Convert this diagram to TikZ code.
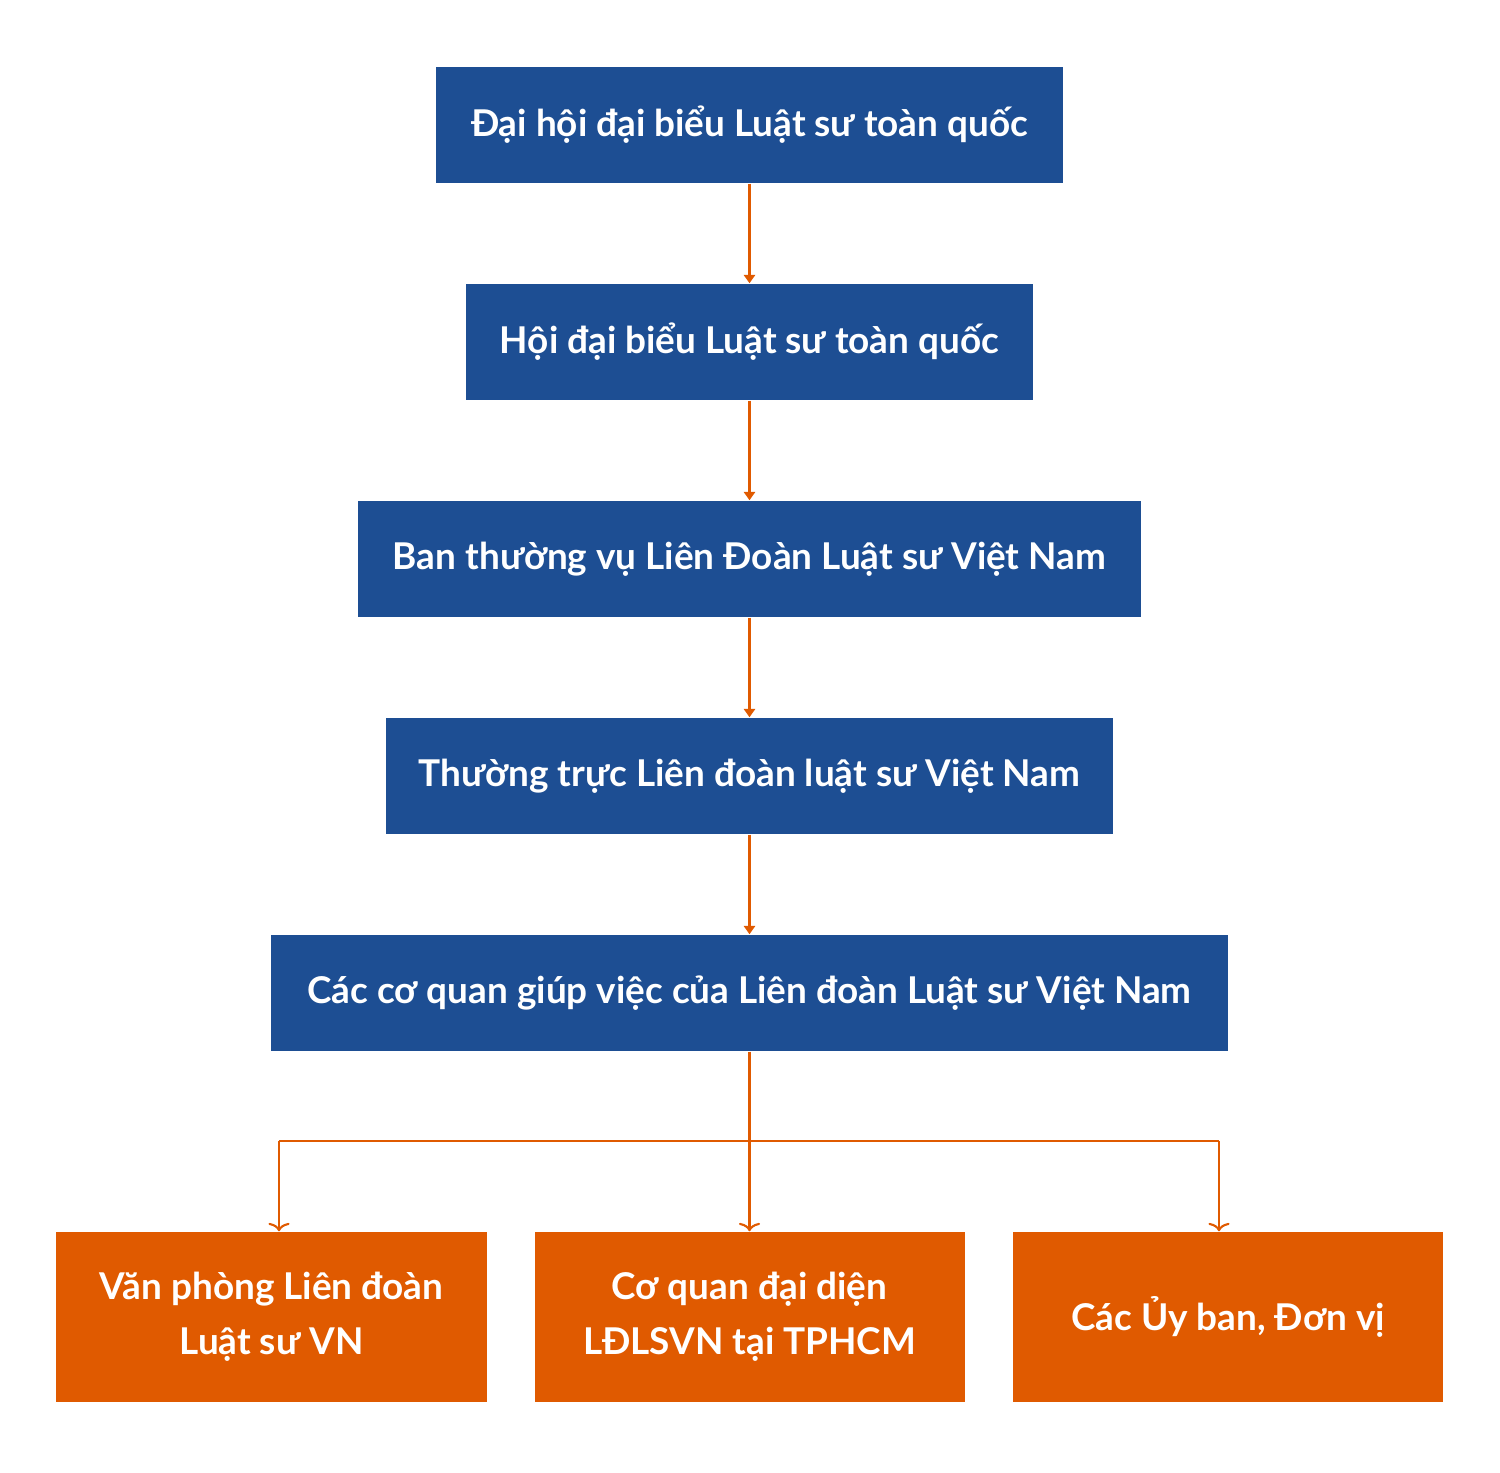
\documentclass[tikz,border=0pt]{standalone}
\usepackage{fontspec}
\setmainfont{Lato}
\usepackage{tikz}
\usetikzlibrary{arrows.meta, calc, positioning}

\definecolor{boxblue}{HTML}{1D4E93}
\definecolor{boxorange}{HTML}{E05A00}

\begin{document}
\begin{tikzpicture}[
    bluebox/.style={fill=boxblue, text=white, font=\fontsize{10.5}{14}\selectfont\bfseries, minimum height=1.16cm, inner sep=0pt, align=center},
    orangebox/.style={fill=boxorange, text=white, font=\fontsize{10.5}{15.5}\selectfont\bfseries, minimum width=4.3cm, minimum height=1.70cm, inner sep=0pt, align=center},
    link/.style={draw=boxorange, line width=0.6pt, -{Triangle[length=2.4pt, width=3.2pt]}},
    branch/.style={draw=boxorange, line width=0.6pt, -{To[length=2.4pt, width=6pt]}}
  ]
  \useasboundingbox (0,0) rectangle (15,-14.73);

  % Main chain
  \node[bluebox, minimum width=6.27cm] (dhdb) at (7.495,-1.25) {Đại hội đại biểu Luật sư toàn quốc};
  \node[bluebox, minimum width=5.67cm] (hdb) at (7.495,-3.42) {Hội đại biểu Luật sư toàn quốc};
  \node[bluebox, minimum width=7.83cm] (btv) at (7.495,-5.59) {Ban thường vụ Liên Đoàn Luật sư Việt Nam};
  \node[bluebox, minimum width=7.27cm] (ttr) at (7.495,-7.76) {Thường trực Liên đoàn luật sư Việt Nam};
  \node[bluebox, minimum width=9.57cm] (cqgv) at (7.495,-9.93) {Các cơ quan giúp việc của Liên đoàn Luật sư Việt Nam};

  % Bottom row
  \node[orangebox] (vp) at (2.715,-13.17) {Văn phòng Liên đoàn\\Luật sư VN};
  \node[orangebox] (cqdd) at (7.495,-13.17) {Cơ quan đại diện\\LĐLSVN tại TPHCM};
  \node[orangebox] (uyban) at (12.28,-13.17) {Các Ủy ban, Đơn vị};

  % Arrows
  \draw[link] (dhdb) -- (hdb);
  \draw[link] (hdb) -- (btv);
  \draw[link] (btv) -- (ttr);
  \draw[link] (ttr) -- (cqgv);

  % Branches
  \coordinate (split) at (7.495,-11.41);
  \coordinate (leftdrop) at (2.79,-11.41);
  \coordinate (rightdrop) at (12.19,-11.41);
  \draw[draw=boxorange, line width=0.6pt] (leftdrop) -- (rightdrop);
  \draw[branch] (cqgv) -- (cqdd);
  \draw[branch] (leftdrop) -- (leftdrop |- vp.north);
  \draw[branch] (rightdrop) -- (rightdrop |- uyban.north);
\end{tikzpicture}
\end{document}
